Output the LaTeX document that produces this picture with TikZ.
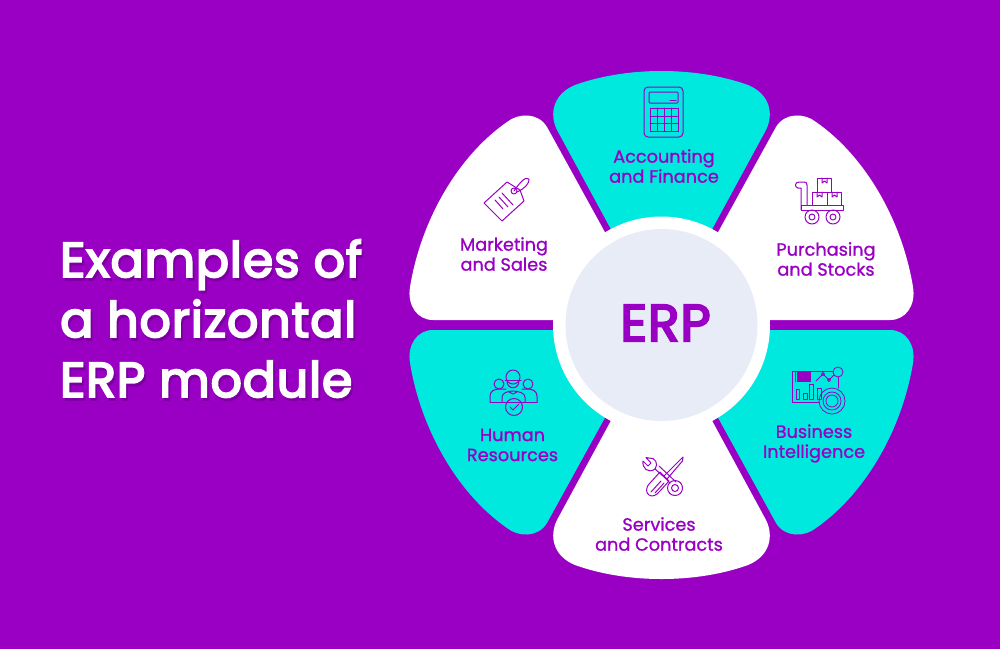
\documentclass[tikz,border=0pt]{standalone}
\usepackage{fontspec}
\setmainfont{Poppins}
\newfontfamily\labelfont[FakeBold=1]{Poppins}
\newfontfamily\headfont[FakeBold=4,LetterSpace=1.8]{Poppins}
\definecolor{erppurple}{HTML}{9900C4}
\definecolor{erpdark}{HTML}{5A0078}
\definecolor{erpteal}{HTML}{00E9DE}
\definecolor{erpcore}{HTML}{E8ECF7}
\tikzset{
    leaflabel/.style={font=\labelfont\fontsize{17.7}{20}\selectfont,text=erppurple,align=center,inner sep=0pt},
    titleline/.style={font=\headfont\fontsize{49}{60}\selectfont,anchor=base west,inner sep=0pt},
    icon/.style={draw=erppurple,line width=1pt,line join=round,line cap=round},
}
\newcommand{\topleaf}{(620,246) -- (557,130) .. controls (549,114) and (553,94) .. (575,85) .. controls (600,76) and (630,71) .. (661.5,71) .. controls (693,71) and (723,76) .. (748,85) .. controls (770,94) and (774,114) .. (766,130) -- (703,246) -- cycle}
\newcommand{\sideleaf}{(612,245) -- (547,127) .. controls (538,112) and (518,113) .. (507,122) .. controls (458,156) and (421,220) .. (410,287) .. controls (407,305) and (417,320) .. (433,320) -- (600,320) -- cycle}
\begin{document}
\begin{tikzpicture}[x=1pt,y=-1pt]
    \useasboundingbox (0,0) rectangle (1000,649);
    %% Background
    \fill[erppurple] (0,0) rectangle (1000,649);
    %% Title
    \node[titleline,text=erpdark,opacity=0.35] at (62,280) {Examples of};
    \node[titleline,text=erpdark,opacity=0.35] at (62,340) {a horizontal};
    \node[titleline,text=erpdark,opacity=0.35] at (62,400) {ERP module};
    \node[titleline,text=white] (titleone) at (60,277) {Examples of};
    \node[titleline,text=white] (titletwo) at (60,337) {a horizontal};
    \node[titleline,text=white] (titlethree) at (60,397) {ERP module};
    %% Leaves
    \fill[erpteal] \topleaf;
    \begin{scope}[shift={(0,650)},yscale=-1]
        \fill[white] \topleaf;
        \fill[erpteal] \sideleaf;
    \end{scope}
    \fill[white] \sideleaf;
    \begin{scope}[shift={(1323,0)},xscale=-1]
        \fill[white] \sideleaf;
    \end{scope}
    \begin{scope}[shift={(1323,650)},xscale=-1,yscale=-1]
        \fill[erpteal] \sideleaf;
    \end{scope}
    %% Core
    \fill[white] (661.5,325) circle (108.5);
    \node[circle,fill=erpcore,minimum size=192pt,inner sep=0pt] (core) at (661.5,325) {};
    \node[font=\headfont\fontsize{52}{52}\selectfont,text=erppurple,inner sep=0pt] (erp) at (665.5,323) {ERP};
    %% Labels
    \node[leaflabel] (accounting) at (664,166) {Accounting\\and Finance};
    \node[leaflabel] (marketing) at (504,254) {Marketing\\and Sales};
    \node[leaflabel] (purchasing) at (826,259) {Purchasing\\and Stocks};
    \node[leaflabel] (business) at (814,443.5) {Business\\Intelligence};
    \node[leaflabel] (human) at (512.5,445) {Human\\Resources};
    \node[leaflabel] (services) at (659,534) {Services\\and Contracts};
    %% Calculator
    \draw[icon,rounded corners=4pt] (644,87) rectangle (683,137);
    \draw[icon,rounded corners=1pt] (649,92) rectangle (678,103);
    \draw[icon] (670,100.5) -- (676,100.5);
    \draw[icon] (650,108) rectangle (678,131);
    \foreach \gx in {657,664,671}{ \draw[icon] (\gx,108) -- (\gx,131); }
    \foreach \gy in {116,123.5}{ \draw[icon] (650,\gy) -- (678,\gy); }
    %% Tag
    \draw[icon] (484,203) -- (507,182) -- (520,190) -- (524,201) -- (502,221) -- cycle;
    \draw[icon] (514,191) circle (3);
    \draw[icon] (514,191) .. controls (520,182) and (526,176) .. (529,179) .. controls (530,183) and (524,189) .. (517,192);
    \draw[icon] (495,200) -- (503,209) (499,197) -- (508,207) (502,193) -- (513,205);
    %% Cart
    \draw[icon] (801,210) -- (801,188) -- (798,188) .. controls (794,187) and (795,182) .. (799,182) -- (804,182) .. controls (806,182) and (807,183) .. (807,185) -- (807,205);
    \draw[icon] (801,205) rectangle (843,210);
    \draw[icon] (812,192) rectangle (827,205) (827,192) rectangle (841,205) (817,178) rectangle (831,192);
    \draw[icon] (817,192) -- (817,197) -- (819.5,195) -- (822,197) -- (822,192);
    \draw[icon] (832,192) -- (832,197) -- (834.5,195) -- (837,197) -- (837,192);
    \draw[icon] (822,178) -- (822,183) -- (824.5,181) -- (827,183) -- (827,178);
    \foreach \wx in {812,833}{
        \draw[icon] (\wx,217) circle (7) (\wx,217) circle (3);
    }
    %% Dashboard
    \draw[icon,line width=0.8pt] (833,371) -- (792,371) -- (792,402) -- (819,402) (838,377) -- (838,388);
    \fill[erppurple] (797,372) rectangle (811,382);
    \draw[icon,line width=0.8pt] (795,372) -- (795,382);
    \draw[icon,line width=0.8pt] (796,389) rectangle (799,399) (803,393) rectangle (807,399) (809,384) rectangle (813,399) (817,388) rectangle (821,399);
    \draw[icon,line width=0.8pt] (816,381) -- (823,374) -- (829,380) -- (834,375);
    \draw[icon,line width=0.8pt] (823,374) circle (1.5) (829,380) circle (1.5) (838,372) circle (5);
    \draw[icon,line width=0.8pt] (832,401) circle (13) (832,401) circle (9) (832,401) circle (6);
    %% People
    \draw[icon] (513,377) circle (7) (499,384) circle (5) (528,384) circle (5);
    \draw[icon] (505,380) -- (521,380);
    \draw[icon] (507,381) .. controls (507,390) and (519,390) .. (519,381);
    \draw[icon] (490,402) -- (490,396) .. controls (490,391) and (495,389) .. (499,389) -- (506,389);
    \draw[icon] (537,402) -- (537,396) .. controls (537,391) and (532,389) .. (528,389) -- (522,389);
    \draw[icon] (502,402) -- (502,397) .. controls (502,393) and (508,391) .. (513,391) .. controls (518,391) and (525,393) .. (525,397) -- (525,402);
    \draw[icon] (509,392) -- (513,394) -- (517,392);
    \draw[icon] (490,402) -- (537,402);
    \draw[icon] (514,407) circle (8.5);
    \draw[icon] (510,407) -- (513,410) -- (519,404);
    %% Tools
    \draw[icon] (664,476) -- (677,463) -- (681,459) -- (683,457) -- (682.5,461) -- (679,465) -- (667,479);
    \draw[icon] (666,478) -- (660,472) -- (650,483) .. controls (645,488) and (646,493) .. (649,495) .. controls (652,497) and (656,496) .. (660,491) -- (669,481) -- cycle;
    \draw[icon] (651,492) -- (661,481) (655,493) -- (664,483);
    \draw[icon] (655,469) -- (663,476) -- (669,482) -- (670,483);
    \draw[icon] (659,466) -- (676,482);
    \draw[icon] (655,469) .. controls (659,464) and (655,457) .. (649,458) -- (646,457.5) -- (651,463) -- (648,466) -- (643,461) .. controls (642,468) and (648,474) .. (655,469);
    \draw[icon] (675,488) circle (7.5) (675,488) circle (3.5);
\end{tikzpicture}
\end{document}
